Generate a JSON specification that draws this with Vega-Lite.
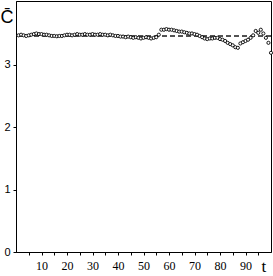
{
  "$schema": "https://vega.github.io/schema/vega-lite/v6.json",
  "width": 255,
  "height": 251,
  "autosize": "none",
  "padding": {"left": 16, "top": 1, "right": 2, "bottom": 24},
  "background": "white",
  "config": {
    "view": {"stroke": "black", "strokeWidth": 1},
    "axis": {"grid": false, "domainColor": "black", "tickColor": "black", "labelColor": "black", "titleColor": "black", "domainWidth": 1, "tickWidth": 1}
  },
  "data": {"values": [
    {"t":1,"C":3.47},{"t":2,"C":3.48},{"t":3,"C":3.47},{"t":4,"C":3.46},{"t":5,"C":3.47},
    {"t":6,"C":3.48},{"t":7,"C":3.49},{"t":8,"C":3.50},{"t":9,"C":3.49},{"t":10,"C":3.49},
    {"t":11,"C":3.48},{"t":12,"C":3.48},{"t":13,"C":3.47},{"t":14,"C":3.46},{"t":15,"C":3.46},
    {"t":16,"C":3.455},{"t":17,"C":3.46},{"t":18,"C":3.46},{"t":19,"C":3.47},{"t":20,"C":3.48},
    {"t":21,"C":3.48},{"t":22,"C":3.47},{"t":23,"C":3.48},{"t":24,"C":3.49},{"t":25,"C":3.48},
    {"t":26,"C":3.48},{"t":27,"C":3.49},{"t":28,"C":3.48},{"t":29,"C":3.48},{"t":30,"C":3.49},
    {"t":31,"C":3.48},{"t":32,"C":3.48},{"t":33,"C":3.49},{"t":34,"C":3.48},{"t":35,"C":3.48},
    {"t":36,"C":3.47},{"t":37,"C":3.48},{"t":38,"C":3.47},{"t":39,"C":3.46},{"t":40,"C":3.46},
    {"t":41,"C":3.45},{"t":42,"C":3.45},{"t":43,"C":3.44},{"t":44,"C":3.45},{"t":45,"C":3.44},
    {"t":46,"C":3.43},{"t":47,"C":3.44},{"t":48,"C":3.43},{"t":49,"C":3.42},{"t":50,"C":3.43},
    {"t":51,"C":3.44},{"t":52,"C":3.43},{"t":53,"C":3.42},{"t":54,"C":3.43},{"t":55,"C":3.44},
    {"t":56,"C":3.48},{"t":57,"C":3.56},{"t":58,"C":3.56},{"t":59,"C":3.57},{"t":60,"C":3.56},
    {"t":61,"C":3.56},{"t":62,"C":3.55},{"t":63,"C":3.54},{"t":64,"C":3.53},{"t":65,"C":3.53},
    {"t":66,"C":3.52},{"t":67,"C":3.51},{"t":68,"C":3.50},{"t":69,"C":3.50},{"t":70,"C":3.49},
    {"t":71,"C":3.48},{"t":72,"C":3.46},{"t":73,"C":3.44},{"t":74,"C":3.42},{"t":75,"C":3.41},
    {"t":76,"C":3.42},{"t":77,"C":3.42},{"t":78,"C":3.43},{"t":79,"C":3.43},{"t":80,"C":3.41},
    {"t":81,"C":3.40},{"t":82,"C":3.38},{"t":83,"C":3.35},{"t":84,"C":3.33},{"t":85,"C":3.31},
    {"t":86,"C":3.28},{"t":87,"C":3.27},{"t":88,"C":3.34},{"t":89,"C":3.36},{"t":90,"C":3.38},
    {"t":91,"C":3.40},{"t":92,"C":3.43},{"t":93,"C":3.47},{"t":94,"C":3.54},{"t":95,"C":3.51},
    {"t":96,"C":3.56},{"t":97,"C":3.50},{"t":98,"C":3.43},{"t":99,"C":3.35},{"t":100,"C":3.19}
  ]},
  "layer": [
    {
      "mark": {"type": "rule", "stroke": "#555555", "strokeWidth": 0.7, "strokeDash": [5, 3]},
      "encoding": {"y": {"datum": 3.465, "type": "quantitative"}}
    },
    {
      "mark": {"type": "point", "shape": "circle", "filled": false, "fill": "white", "fillOpacity": 1, "stroke": "black", "strokeWidth": 0.9, "size": 10, "opacity": 1},
      "encoding": {
        "x": {
          "field": "t", "type": "quantitative",
          "scale": {"domain": [0, 100], "nice": false, "zero": false},
          "axis": {
            "values": [5,10,15,20,25,30,35,40,45,50,55,60,65,70,75,80,85,90,95],
            "labelExpr": "datum.value % 10 == 0 ? datum.label : ''",
            "tickSize": 3, "labelPadding": 5, "labelFont": "Liberation Serif", "labelFontSize": 12,
            "labelFlush": false, "labelOverlap": false,
            "title": "t", "titleFont": "Liberation Serif", "titleFontSize": 17, "titleFontWeight": "normal",
            "titleAnchor": "start", "titleAlign": "left", "titleBaseline": "alphabetic",
            "titleX": 245, "titleY": 19
          }
        },
        "y": {
          "field": "C", "type": "quantitative",
          "scale": {"domain": [0, 4.02], "nice": false, "zero": true},
          "axis": {
            "values": [0, 0.5, 1, 1.5, 2, 2.5, 3, 3.5],
            "labelExpr": "datum.value % 1 == 0 ? format(datum.value, 'd') : ''",
            "tickSize": 3, "labelPadding": 3, "labelFont": "Liberation Sans", "labelFontSize": 11,
            "labelFlush": false, "labelOverlap": false,
            "title": "C̄", "titleFont": "Liberation Sans", "titleFontSize": 18, "titleFontWeight": "normal",
            "titleAngle": 0, "titleAlign": "left", "titleBaseline": "alphabetic",
            "titleX": -16, "titleY": 21
          }
        }
      }
    }
  ]
}
